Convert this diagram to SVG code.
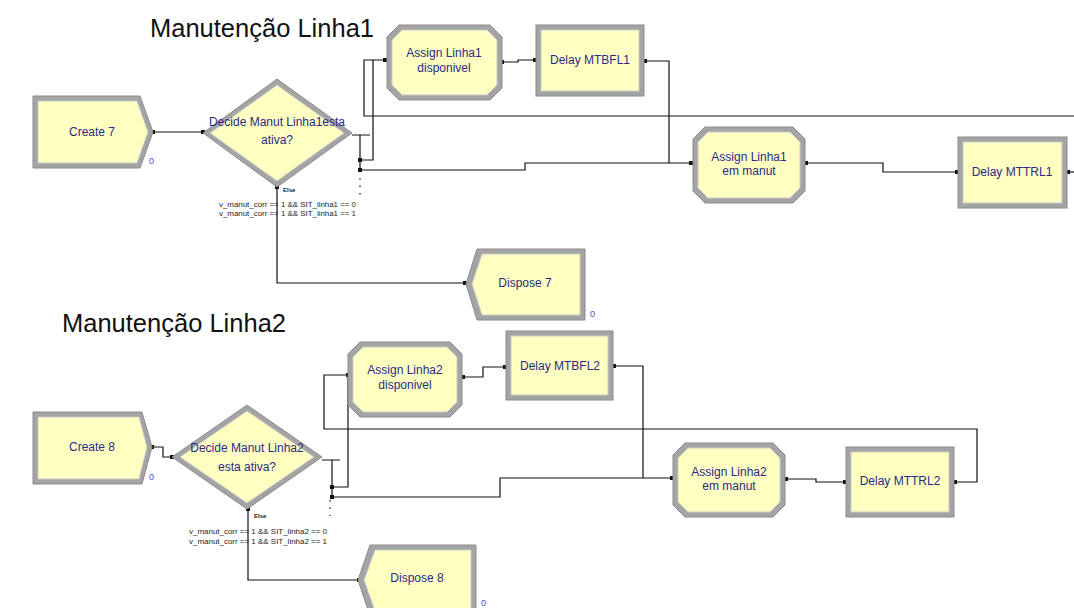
<svg xmlns="http://www.w3.org/2000/svg" width="1074" height="608" viewBox="0 0 1074 608">
<defs>
<style>
.o{fill:#A4A4A4;stroke:#8C8C8C;stroke-width:1}
.i{fill:#FFFFC2;stroke:#C9C9C9;stroke-width:1}
.t{font-family:"Liberation Sans",Arial,sans-serif;font-size:12px;fill:#2A2A86;text-anchor:middle}
.cnt{font-family:"Liberation Sans",Arial,sans-serif;font-size:9px;fill:#4A4AD0}
.title{font-family:"Liberation Sans",Arial,sans-serif;font-size:25.5px;fill:#111}
.c{fill:none;stroke:#111;stroke-width:1.2}
.cond{font-family:"Liberation Sans",Arial,sans-serif;font-size:7px;fill:#222}
.else{font-family:"Liberation Sans",Arial,sans-serif;font-size:6px;font-weight:bold;fill:#222}
.p{fill:#111}
</style>
</defs>
<rect width="1074" height="608" fill="#fff"/>
<text class="title" x="150" y="37">Manutenção Linha1</text>
<text class="title" x="62" y="332">Manutenção Linha2</text>

<g id="connectors">
<path class="c" d="M153,132 H203"/>
<path class="c" d="M352,135 H370 M360,135 V172"/>
<path class="c" d="M360,160 H373 V60 H385"/>
<path class="c" d="M1074,116 H364 V60 H373"/>
<path class="c" d="M360,170 H525 V163 H692"/>
<path class="c" d="M502,62 H518 V60 H536"/>
<path class="c" d="M644,61 H669 V163"/>
<path class="c" d="M805,163 H883 V172 H958"/>
<path class="c" d="M1067,172 H1074"/>
<path class="c" d="M277,187 V283 H466"/>
<path d="M360,178 V198" stroke="#333" stroke-width="1.5" stroke-dasharray="1.5,6" fill="none"/>

<path class="c" d="M152,447 H163 V457 H172"/>
<path class="c" d="M322,460 H340 M332,460 V498"/>
<path class="c" d="M332,487 H348 V375"/>
<path class="c" d="M348,375 H324 V429 H977 V482 H954"/>
<path class="c" d="M332,497 H500 V478 H673"/>
<path class="c" d="M462,377 H483 V367 H506"/>
<path class="c" d="M613,366 H643 V478"/>
<path class="c" d="M785,479 H816 V482 H846"/>
<path class="c" d="M248,509 V580 H360"/>
<path d="M330,500 V516" stroke="#333" stroke-width="1.5" stroke-dasharray="1.5,6" fill="none"/>

<g class="p">
<rect x="151" y="130" width="4" height="4"/><rect x="201" y="130" width="4" height="4"/>
<rect x="358" y="158" width="4" height="4"/><rect x="358" y="168" width="4" height="4"/>
<rect x="275" y="185" width="4" height="4"/>
<rect x="383" y="58" width="4" height="4"/><rect x="500" y="60" width="4" height="4"/>
<rect x="533" y="58" width="4" height="4"/><rect x="643" y="59" width="4" height="4"/>
<rect x="689" y="161" width="4" height="4"/><rect x="804" y="161" width="4" height="4"/>
<rect x="955" y="170" width="4" height="4"/><rect x="1066" y="170" width="4" height="4"/>
<rect x="463" y="281" width="4" height="4"/>
<rect x="150" y="445" width="4" height="4"/><rect x="170" y="455" width="4" height="4"/>
<rect x="330" y="485" width="4" height="4"/><rect x="330" y="495" width="4" height="4"/>
<rect x="246" y="507" width="4" height="4"/>
<rect x="346" y="373" width="4" height="4"/><rect x="461" y="375" width="4" height="4"/>
<rect x="503" y="365" width="4" height="4"/><rect x="612" y="364" width="4" height="4"/>
<rect x="670" y="476" width="4" height="4"/><rect x="784" y="477" width="4" height="4"/>
<rect x="843" y="480" width="4" height="4"/><rect x="953" y="480" width="4" height="4"/>
<rect x="357" y="578" width="4" height="4"/>
</g>
</g>

<g id="create7">
<polygon class="o" points="33,96 140,96 153,132 140,168 33,168"/>
<polygon class="i" points="38,101 137,101 148,132 137,163 38,163"/>
<text class="t" x="92" y="136">Create 7</text>
<text class="cnt" x="149" y="164">0</text>
</g>
<g id="decide1">
<polygon class="o" points="203,133 277,79 352,133 277,187"/>
<polygon class="i" points="210,133 277,85 344,133 277,181"/>
<text class="t" x="277" y="126">Decide Manut Linha1esta</text>
<text class="t" x="277" y="144">ativa?</text>
<text class="else" x="283" y="192">Else</text>
<text class="cond" x="219" y="207" textLength="137" lengthAdjust="spacingAndGlyphs">v_manut_corr == 1 &amp;&amp; SIT_linha1 == 0</text>
<text class="cond" x="219" y="216" textLength="137" lengthAdjust="spacingAndGlyphs">v_manut_corr == 1 &amp;&amp; SIT_linha1 == 1</text>
</g>
<g id="assign1disp">
<polygon class="o" points="399,25 490,25 502,37 502,88 490,100 399,100 387,88 387,37"/>
<polygon class="i" points="402,30 487,30 497,40 497,85 487,95 402,95 392,85 392,40"/>
<text class="t" x="444" y="57">Assign Linha1</text>
<text class="t" x="444" y="72">disponivel</text>
</g>
<g id="delayMTBFL1">
<rect class="o" x="536" y="25" width="108" height="71"/>
<rect class="i" x="541" y="30" width="98" height="61"/>
<text class="t" x="590" y="64">Delay MTBFL1</text>
</g>
<g id="assign1manut">
<polygon class="o" points="705,127 793,127 805,139 805,191 793,203 705,203 693,191 693,139"/>
<polygon class="i" points="708,132 790,132 800,142 800,188 790,198 708,198 698,188 698,142"/>
<text class="t" x="749" y="161">Assign Linha1</text>
<text class="t" x="749" y="175">em manut</text>
</g>
<g id="delayMTTRL1">
<rect class="o" x="958" y="137" width="109" height="71"/>
<rect class="i" x="963" y="142" width="99" height="61"/>
<text class="t" x="1012" y="176">Delay MTTRL1</text>
</g>
<g id="dispose7">
<polygon class="o" points="477,249 585,249 585,320 477,320 466,284"/>
<polygon class="i" points="482,254 580,254 580,315 482,315 472,284"/>
<text class="t" x="525" y="287">Dispose 7</text>
<text class="cnt" x="590" y="317">0</text>
</g>

<g id="create8">
<polygon class="o" points="33,412 142,412 152,447 142,484 33,484"/>
<polygon class="i" points="38,417 139,417 147,447 139,479 38,479"/>
<text class="t" x="92" y="451">Create 8</text>
<text class="cnt" x="149" y="480">0</text>
</g>
<g id="decide2">
<polygon class="o" points="172,457 247,405 322,457 247,509"/>
<polygon class="i" points="180,457 247,411 314,457 247,503"/>
<text class="t" x="247" y="452">Decide Manut Linha2</text>
<text class="t" x="247" y="471">esta ativa?</text>
<text class="else" x="254" y="518">Else</text>
<text class="cond" x="189" y="534" textLength="138" lengthAdjust="spacingAndGlyphs">v_manut_corr == 1 &amp;&amp; SIT_linha2 == 0</text>
<text class="cond" x="189" y="544" textLength="138" lengthAdjust="spacingAndGlyphs">v_manut_corr == 1 &amp;&amp; SIT_linha2 == 1</text>
</g>
<g id="assign2disp">
<polygon class="o" points="360,342 450,342 462,354 462,405 450,417 360,417 348,405 348,354"/>
<polygon class="i" points="363,347 447,347 457,357 457,402 447,412 363,412 353,402 353,357"/>
<text class="t" x="405" y="374">Assign Linha2</text>
<text class="t" x="405" y="389">disponivel</text>
</g>
<g id="delayMTBFL2">
<rect class="o" x="506" y="331" width="107" height="69"/>
<rect class="i" x="511" y="336" width="97" height="59"/>
<text class="t" x="560" y="370">Delay MTBFL2</text>
</g>
<g id="assign2manut">
<polygon class="o" points="685,443 773,443 785,455 785,505 773,517 685,517 673,505 673,455"/>
<polygon class="i" points="688,448 770,448 780,458 780,502 770,512 688,512 678,502 678,458"/>
<text class="t" x="729" y="476">Assign Linha2</text>
<text class="t" x="729" y="490">em manut</text>
</g>
<g id="delayMTTRL2">
<rect class="o" x="846" y="447" width="108" height="70"/>
<rect class="i" x="851" y="452" width="98" height="60"/>
<text class="t" x="900" y="485">Delay MTTRL2</text>
</g>
<g id="dispose8">
<polygon class="o" points="370,545 476,545 476,616 370,616 358,580"/>
<polygon class="i" points="375,550 471,550 471,611 375,611 364,580"/>
<text class="t" x="417" y="582">Dispose 8</text>
<text class="cnt" x="481" y="606" font-size="7">0</text>
</g>
</svg>
